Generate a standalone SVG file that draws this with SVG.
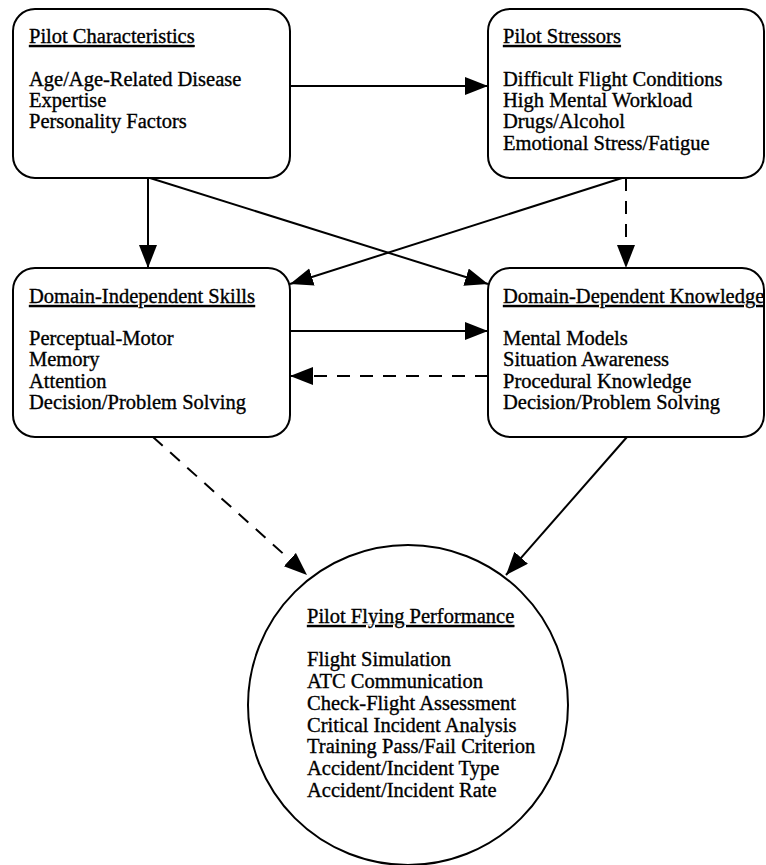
<svg xmlns="http://www.w3.org/2000/svg" width="766" height="865" viewBox="0 0 766 865">
<style>
.box{fill:#fff;stroke:#000;stroke-width:2}
.t{font-family:"Liberation Serif","Times New Roman",serif;font-size:20.5px;fill:#000;stroke:#000;stroke-width:0.35}
.h{text-decoration:underline}
.c{fill:none;stroke:#000;stroke-width:2}
.d{stroke-dasharray:13 10}
</style>
<defs>
<marker id="ah" markerUnits="userSpaceOnUse" markerWidth="24" markerHeight="20" refX="23" refY="9" orient="auto">
<path d="M0,0 L23,9 L0,18 Z" fill="#000"/>
</marker>
</defs>
<rect width="766" height="865" fill="#fff"/>
<g id="connectors">
<line class="c" x1="290" y1="86" x2="488" y2="86" marker-end="url(#ah)"/>
<line class="c" x1="148" y1="178" x2="148" y2="268" marker-end="url(#ah)"/>
<line class="c" x1="150" y1="178" x2="488" y2="284" marker-end="url(#ah)"/>
<line class="c" x1="622" y1="178" x2="290" y2="284" marker-end="url(#ah)"/>
<line class="c d" x1="626" y1="178" x2="626" y2="268" marker-end="url(#ah)"/>
<line class="c" x1="290" y1="331" x2="488" y2="331" marker-end="url(#ah)"/>
<line class="c d" x1="488" y1="376" x2="290" y2="376" marker-end="url(#ah)"/>
<line class="c d" x1="153" y1="437" x2="307" y2="575" marker-end="url(#ah)"/>
<line class="c" x1="627" y1="437" x2="506" y2="575" marker-end="url(#ah)"/>
</g>
<g id="pilot-characteristics">
<rect class="box" x="13" y="9" width="277" height="169" rx="22"/>
<text class="t" x="29"><tspan class="h" y="43">Pilot Characteristics</tspan><tspan x="29" y="86">Age/Age-Related Disease</tspan><tspan x="29" y="107">Expertise</tspan><tspan x="29" y="128">Personality Factors</tspan></text>
</g>
<g id="pilot-stressors">
<rect class="box" x="488" y="9" width="276" height="169" rx="22"/>
<text class="t" x="503"><tspan class="h" y="43">Pilot Stressors</tspan><tspan x="503" y="86">Difficult Flight Conditions</tspan><tspan x="503" y="107">High Mental Workload</tspan><tspan x="503" y="128">Drugs/Alcohol</tspan><tspan x="503" y="150">Emotional Stress/Fatigue</tspan></text>
</g>
<g id="domain-independent">
<rect class="box" x="13" y="268" width="277" height="169" rx="22"/>
<text class="t" x="29"><tspan class="h" y="303">Domain-Independent Skills</tspan><tspan x="29" y="345">Perceptual-Motor</tspan><tspan x="29" y="366">Memory</tspan><tspan x="29" y="388">Attention</tspan><tspan x="29" y="409">Decision/Problem Solving</tspan></text>
</g>
<g id="domain-dependent">
<rect class="box" x="488" y="268" width="276" height="169" rx="22"/>
<text class="t" x="503"><tspan class="h" y="303">Domain-Dependent Knowledge</tspan><tspan x="503" y="345">Mental Models</tspan><tspan x="503" y="366">Situation Awareness</tspan><tspan x="503" y="388">Procedural Knowledge</tspan><tspan x="503" y="409">Decision/Problem Solving</tspan></text>
</g>
<g id="pilot-flying-performance">
<circle class="box" cx="408" cy="705" r="160"/>
<text class="t" x="307"><tspan class="h" y="623">Pilot Flying Performance</tspan><tspan x="307" y="666">Flight Simulation</tspan><tspan x="307" y="688">ATC Communication</tspan><tspan x="307" y="710">Check-Flight Assessment</tspan><tspan x="307" y="732">Critical Incident Analysis</tspan><tspan x="307" y="753">Training Pass/Fail Criterion</tspan><tspan x="307" y="775">Accident/Incident Type</tspan><tspan x="307" y="797">Accident/Incident Rate</tspan></text>
</g>
</svg>
